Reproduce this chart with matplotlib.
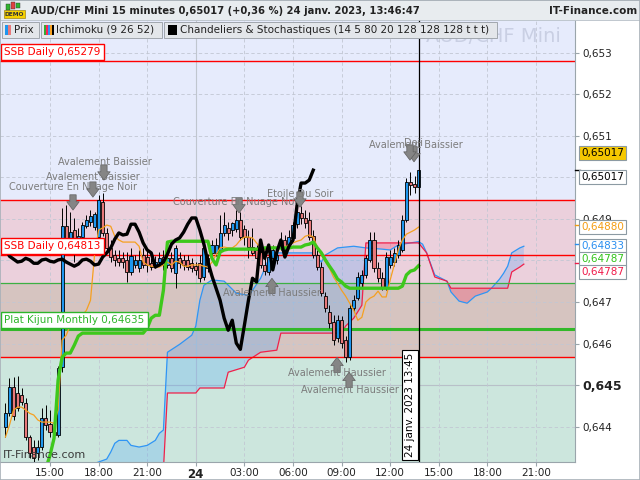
import numpy as np
import matplotlib.pyplot as plt
from matplotlib.patches import Rectangle
from matplotlib.lines import Line2D

# time axis = hours from 23 Jan 2023 00:00, one bar every 15 minutes
first_bar = 12.25
bar_len = 0.25

opens = [0.64399, 0.64432, 0.64495, 0.64481, 0.64476, 0.64457, 0.64375, 0.64351, 0.64336, 0.64351,
         0.64420, 0.64406, 0.64387, 0.64379, 0.64543, 0.64882, 0.64837, 0.64873, 0.64844, 0.64856,
         0.64882, 0.64892, 0.64880, 0.64856, 0.64940, 0.64866, 0.64830, 0.64813, 0.64805, 0.64805,
         0.64801, 0.64772, 0.64789, 0.64781, 0.64813, 0.64808, 0.64793, 0.64789, 0.64796, 0.64808,
         0.64789, 0.64805, 0.64769, 0.64805, 0.64801, 0.64801, 0.64793, 0.64786, 0.64793, 0.64760,
         0.64781, 0.64818, 0.64818, 0.64825, 0.64866, 0.64878, 0.64873, 0.64875, 0.64897, 0.64875,
         0.64856, 0.64832, 0.64825, 0.64820, 0.64789, 0.64772, 0.64805, 0.64801, 0.64830, 0.64849,
         0.64839, 0.64854, 0.64887, 0.64914, 0.64902, 0.64897, 0.64858, 0.64813, 0.64784, 0.64714,
         0.64676, 0.64651, 0.64613, 0.64656, 0.64608, 0.64567, 0.64685, 0.64709, 0.64745, 0.64765,
         0.64801, 0.64849, 0.64781, 0.64757, 0.64736, 0.64789, 0.64796, 0.64813, 0.64825, 0.64897,
         0.64988, 0.64984, 0.64976]
highs = [0.64457, 0.64517, 0.64519, 0.64521, 0.64493, 0.64469, 0.64379, 0.64367, 0.64367, 0.64444,
         0.64452, 0.64440, 0.64404, 0.64546, 0.64926, 0.64933, 0.64916, 0.64902, 0.64878, 0.64892,
         0.64909, 0.64921, 0.64916, 0.64957, 0.64962, 0.64878, 0.64849, 0.64825, 0.64825, 0.64820,
         0.64820, 0.64830, 0.64813, 0.64825, 0.64830, 0.64825, 0.64805, 0.64810, 0.64820, 0.64825,
         0.64820, 0.64820, 0.64837, 0.64820, 0.64813, 0.64813, 0.64805, 0.64796, 0.64813, 0.64837,
         0.64815, 0.64849, 0.64854, 0.64909, 0.64916, 0.64892, 0.64892, 0.64921, 0.64916, 0.64885,
         0.64873, 0.64878, 0.64837, 0.64832, 0.64805, 0.64820, 0.64837, 0.64830, 0.64868, 0.64861,
         0.64873, 0.64892, 0.64933, 0.64931, 0.64921, 0.64916, 0.64873, 0.64825, 0.64796, 0.64724,
         0.64692, 0.64668, 0.64668, 0.64666, 0.64618, 0.64695, 0.64716, 0.64772, 0.64777, 0.64813,
         0.64868, 0.64868, 0.64796, 0.64772, 0.64820, 0.64825, 0.64830, 0.64849, 0.64909, 0.64998,
         0.65012, 0.65003, 0.65024]
lows = [0.64375, 0.64425, 0.64416, 0.64437, 0.64452, 0.64367, 0.64324, 0.64312, 0.64319, 0.64343,
        0.64392, 0.64375, 0.64367, 0.64375, 0.64531, 0.64825, 0.64825, 0.64796, 0.64825, 0.64849,
        0.64878, 0.64882, 0.64873, 0.64849, 0.64858, 0.64820, 0.64796, 0.64786, 0.64786, 0.64781,
        0.64748, 0.64765, 0.64781, 0.64772, 0.64781, 0.64772, 0.64777, 0.64781, 0.64786, 0.64777,
        0.64781, 0.64772, 0.64733, 0.64781, 0.64777, 0.64777, 0.64772, 0.64765, 0.64748, 0.64753,
        0.64772, 0.64805, 0.64810, 0.64813, 0.64858, 0.64849, 0.64858, 0.64868, 0.64849, 0.64837,
        0.64805, 0.64813, 0.64796, 0.64781, 0.64765, 0.64765, 0.64796, 0.64791, 0.64825, 0.64820,
        0.64832, 0.64844, 0.64878, 0.64887, 0.64878, 0.64849, 0.64805, 0.64777, 0.64714, 0.64676,
        0.64637, 0.64596, 0.64603, 0.64589, 0.64555, 0.64560, 0.64676, 0.64704, 0.64733, 0.64757,
        0.64796, 0.64772, 0.64748, 0.64728, 0.64728, 0.64781, 0.64786, 0.64805, 0.64820, 0.64892,
        0.64957, 0.64962, 0.64969]
closes = [0.64432, 0.64495, 0.64425, 0.64444, 0.64459, 0.64375, 0.64336, 0.64324, 0.64351, 0.64420,
          0.64404, 0.64387, 0.64379, 0.64541, 0.64882, 0.64839, 0.64868, 0.64844, 0.64858, 0.64885,
          0.64897, 0.64907, 0.64911, 0.64945, 0.64866, 0.64830, 0.64808, 0.64801, 0.64796, 0.64796,
          0.64772, 0.64810, 0.64801, 0.64801, 0.64789, 0.64789, 0.64784, 0.64796, 0.64805, 0.64789,
          0.64805, 0.64781, 0.64830, 0.64793, 0.64789, 0.64784, 0.64781, 0.64777, 0.64757, 0.64830,
          0.64805, 0.64837, 0.64837, 0.64866, 0.64885, 0.64866, 0.64890, 0.64897, 0.64856, 0.64856,
          0.64832, 0.64818, 0.64805, 0.64789, 0.64774, 0.64808, 0.64825, 0.64813, 0.64849, 0.64830,
          0.64856, 0.64885, 0.64916, 0.64902, 0.64890, 0.64856, 0.64813, 0.64784, 0.64721, 0.64685,
          0.64649, 0.64608, 0.64656, 0.64601, 0.64567, 0.64685, 0.64704, 0.64760, 0.64765, 0.64805,
          0.64849, 0.64781, 0.64757, 0.64736, 0.64808, 0.64808, 0.64818, 0.64837, 0.64897, 0.64988,
          0.64981, 0.64976, 0.65017]

# Tenkan (orange), one value per bar
tenkan = [0.64375, 0.64404, 0.64440, 0.64447, 0.64447, 0.64440, 0.64432, 0.64428, 0.64416, 0.64411,
          0.64411, 0.64411, 0.64408, 0.64440, 0.64608, 0.64620, 0.64644, 0.64649, 0.64656, 0.64668,
          0.64680, 0.64704, 0.64813, 0.64873, 0.64878, 0.64885, 0.64882, 0.64858, 0.64849, 0.64844,
          0.64844, 0.64844, 0.64844, 0.64834, 0.64796, 0.64789, 0.64786, 0.64784, 0.64784, 0.64789,
          0.64796, 0.64789, 0.64798, 0.64796, 0.64786, 0.64786, 0.64789, 0.64789, 0.64789, 0.64786,
          0.64784, 0.64796, 0.64813, 0.64830, 0.64832, 0.64830, 0.64830, 0.64837, 0.64849, 0.64856,
          0.64856, 0.64854, 0.64842, 0.64830, 0.64825, 0.64830, 0.64832, 0.64830, 0.64830, 0.64832,
          0.64837, 0.64842, 0.64846, 0.64849, 0.64858, 0.64861, 0.64856, 0.64832, 0.64813, 0.64796,
          0.64781, 0.64760, 0.64745, 0.64728, 0.64714, 0.64697, 0.64680, 0.64656, 0.64663, 0.64700,
          0.64709, 0.64714, 0.64726, 0.64712, 0.64712, 0.64753, 0.64789, 0.64825, 0.64849, 0.64863,
          0.64868, 0.64873, 0.64880]

# Kijun (green), starts at bar 10
kijun_first = 10
kijun = [0.64300, 0.64331, 0.64372, 0.64512, 0.64567, 0.64577, 0.64577, 0.64596, 0.64618,
         0.64625, 0.64625, 0.64625, 0.64625, 0.64625, 0.64625, 0.64625, 0.64625,
         0.64625, 0.64625, 0.64625, 0.64625, 0.64625, 0.64625, 0.64625, 0.64625,
         0.64637, 0.64661, 0.64668, 0.64668, 0.64728, 0.64844,
         0.64846, 0.64846, 0.64846, 0.64846, 0.64846, 0.64846, 0.64846, 0.64846, 0.64846, 0.64846,
         0.64805, 0.64789, 0.64820, 0.64825,
         0.64827, 0.64827, 0.64827, 0.64827, 0.64827, 0.64827, 0.64827, 0.64827, 0.64827,
         0.64830, 0.64830, 0.64830, 0.64830, 0.64830, 0.64830, 0.64830,
         0.64832, 0.64832, 0.64832, 0.64837, 0.64839, 0.64844,
         0.64830, 0.64818, 0.64801, 0.64786, 0.64772, 0.64755, 0.64748, 0.64738,
         0.64733, 0.64733, 0.64733, 0.64733, 0.64733, 0.64733, 0.64733, 0.64733, 0.64733,
         0.64733, 0.64733, 0.64733, 0.64733,
         0.64738, 0.64765, 0.64774, 0.64777, 0.64787]

# Stochastic overlay (thick black), one value per bar from the first bar
stoch = [0.64830, 0.64810, 0.64803, 0.64796, 0.64798, 0.64805, 0.64801, 0.64793, 0.64793, 0.64801,
         0.64803, 0.64798, 0.64796, 0.64801, 0.64803, 0.64796, 0.64791, 0.64786, 0.64791, 0.64801,
         0.64803, 0.64798, 0.64789, 0.64791, 0.64808, 0.64818, 0.64830, 0.64851, 0.64866, 0.64861,
         0.64863, 0.64887, 0.64887, 0.64868, 0.64842, 0.64825, 0.64818, 0.64784, 0.64789, 0.64796,
         0.64815, 0.64839, 0.64849, 0.64854, 0.64868, 0.64887, 0.64902, 0.64902, 0.64873, 0.64839,
         0.64796, 0.64762, 0.64733, 0.64704, 0.64661, 0.64632, 0.64656, 0.64601, 0.64586, 0.64644,
         0.64704, 0.64757, 0.64748, 0.64849, 0.64805, 0.64837, 0.64777, 0.64820, 0.64849, 0.64808,
         0.64834, 0.64849, 0.64933, 0.64986, 0.64986, 0.64993, 0.65017]

# Ichimoku cloud (Senkou A blue, Senkou B red)
ssa_time = [17.25, 18.0, 18.5, 18.75, 19.0, 19.25, 19.75, 20.0, 20.5, 21.0, 21.5, 21.75, 22.0,
            22.25, 23.0, 23.75, 24.0, 24.25, 24.5, 25.0, 25.75, 26.5, 27.25, 27.5, 28.0, 28.5,
            29.0, 31.25, 31.75, 32.0, 32.75, 33.75, 34.5, 35.5, 36.0, 36.5, 37.25, 37.75, 38.0,
            38.25, 38.75, 39.5, 39.75, 40.25, 40.75, 41.25, 42.0, 42.25, 42.75, 43.0, 43.25,
            43.5, 44.0, 44.25]
ssa = [0.64305, 0.64315, 0.64322, 0.64339, 0.64360, 0.64367, 0.64367, 0.64355, 0.64351, 0.64355,
       0.64367, 0.64384, 0.64392, 0.64579, 0.64598, 0.64620, 0.64642, 0.64704, 0.64740, 0.64753,
       0.64750, 0.64721, 0.64716, 0.64728, 0.64757, 0.64803, 0.64818, 0.64818, 0.64796, 0.64813,
       0.64830, 0.64834, 0.64830, 0.64827, 0.64825, 0.64837, 0.64842, 0.64845, 0.64839, 0.64818,
       0.64765, 0.64750, 0.64724, 0.64702, 0.64697, 0.64714, 0.64724, 0.64733, 0.64755, 0.64769,
       0.64786, 0.64818, 0.64830, 0.64834]
ssb_time = [22.0, 22.25, 24.0, 24.25, 25.75, 26.0, 27.0, 27.25, 28.0, 29.0, 29.25, 33.0, 33.25,
            33.75, 34.25, 34.5, 37.75, 38.25, 38.75, 39.5, 39.75, 43.25, 43.5, 44.0, 44.25]
ssb = [0.64295, 0.64481, 0.64481, 0.64493, 0.64493, 0.64531, 0.64543, 0.64560, 0.64579, 0.64584,
       0.64625, 0.64625, 0.64642, 0.64661, 0.64692, 0.64842, 0.64842, 0.64818, 0.64760, 0.64750,
       0.64733, 0.64733, 0.64772, 0.64784, 0.64791]

# horizontal levels
ssb_daily_hi = 0.65279
ssb_daily_lo = 0.64813
plat_kijun = 0.64635
red_level_a = 0.64945
red_level_b = 0.64567
green_level = 0.64745

price_ticks = [0.644, 0.645, 0.646, 0.647, 0.649, 0.651, 0.652, 0.653]
price_labels = ['0,644', '0,645', '0,646', '0,647', '0,649', '0,651', '0,652', '0,653']
grid_prices = [0.644, 0.645, 0.646, 0.647, 0.648, 0.649, 0.650, 0.651, 0.652, 0.653]
time_ticks = [15, 18, 21, 24, 27, 30, 33, 36, 39, 42, 45]
time_labels = ['15:00', '18:00', '21:00', '24', '03:00', '06:00', '09:00', '12:00',
               '15:00', '18:00', '21:00']
cursor_time = 37.75

# candlestick pattern marks: text, arrow time, arrow tip price, text time, text price, direction
patterns = [
    ('Couverture En Nuage Noir', 16.42, 0.64921, 16.42, 0.64976, 'down'),
    ('Avalement Baissier', 17.65, 0.64952, 17.65, 0.65000, 'down'),
    ('Avalement Baissier', 18.33, 0.64993, 18.40, 0.65037, 'down'),
    ('Couverture En Nuage Noir', 26.67, 0.64914, 26.54, 0.64940, 'down'),
    ('Etoile Du Soir', 30.43, 0.64928, 30.43, 0.64959, 'down'),
    ('Avalement Haussier', 28.70, 0.64757, 28.70, 0.64721, 'up'),
    ('Avalement Haussier', 32.72, 0.64567, 32.72, 0.64529, 'up'),
    ('Avalement Haussier', 33.46, 0.64531, 33.52, 0.64488, 'up'),
    ('Avalement Baissier', 37.47, 0.65037, 37.59, 0.65077, 'down'),
    ('Doji', 37.22, 0.65041, 37.41, 0.65082, 'down'),
]

W, H = 640, 480


def fx(x):
    return x / W


def fy(y):
    return 1 - y / H


fig = plt.figure(figsize=(6.4, 4.8), dpi=100)
fig.patch.set_facecolor('white')
ax = fig.add_axes([0, fy(462), fx(575), (462 - 20) / H])
ax.set_xlim(11.914, 47.407)
ax.set_ylim(0.64315, 0.653782)

# background zones
ax.axhspan(red_level_a, 0.66, color='#e6ebfc', zorder=0, lw=0)
ax.axhspan(green_level, red_level_a, color='#ebd0dc', zorder=0, lw=0)
ax.axhspan(red_level_b, green_level, color='#d6c4c0', zorder=0, lw=0)
ax.axhspan(0.64, red_level_b, color='#cce6dd', zorder=0, lw=0)

for p in grid_prices:
    if p == 0.645:
        ax.axhline(p, color='#b8c0c8', lw=0.8, zorder=0.5)
    else:
        ax.axhline(p, color='#c2c7d3', lw=0.6, ls=(0, (4, 3)), zorder=0.5)
for t in time_ticks:
    if t == 24:
        ax.axvline(t, color='#c0c6cf', lw=0.8, zorder=0.5)
    else:
        ax.axvline(t, color='#c2c7d3', lw=0.6, ls=(0, (4, 3)), zorder=0.5)

# cloud
tt = np.arange(ssa_time[0], ssa_time[-1] + 0.001, 0.05)
a = np.interp(tt, ssa_time, ssa)
b = np.interp(tt, ssb_time, ssb)
ax.fill_between(tt, a, b, where=a >= b, color='#3399ff', alpha=0.22, lw=0, interpolate=True, zorder=1)
ax.fill_between(tt, a, b, where=a < b, color='#ff2255', alpha=0.25, lw=0, interpolate=True, zorder=1)
ax.plot(ssa_time, ssa, color='#2f95f5', lw=0.9, zorder=2)
ax.plot(ssb_time, ssb, color='#f0204a', lw=0.9, zorder=2)

# levels
for lv in [ssb_daily_hi, red_level_a, ssb_daily_lo, red_level_b]:
    ax.axhline(lv, color='#ff0000', lw=1.0, zorder=2)
ax.axhline(green_level, color='#3cb043', lw=0.9, zorder=2)
ax.axhline(plat_kijun, color='#33b82a', lw=2.2, zorder=2)

# candles
o = np.array(opens)
c = np.array(closes)
t_bar = first_bar + bar_len * np.arange(len(opens))
up = c >= o
ax.vlines(t_bar, lows, highs, color='black', lw=0.7, zorder=3)
body = np.maximum(np.abs(c - o), 0.00002)
ax.bar(t_bar, body, bottom=np.minimum(o, c), width=0.19,
       color=['#1e96ee' if u else '#e8787a' for u in up],
       edgecolor='black', linewidth=0.6, zorder=4)

ax.plot(t_bar[:len(tenkan)], tenkan, color='#f5a020', lw=0.9, zorder=5)
ax.plot(t_bar[kijun_first:kijun_first + len(kijun)], kijun, color='#3ec81c', lw=2.4, zorder=5)
ax.plot(t_bar[:len(stoch)], stoch, color='black', lw=2.4, zorder=6, solid_joinstyle='round')

ax.axvline(cursor_time, color='black', lw=0.9, zorder=7)

# pattern arrows and names
for name, ta, pa, tx, px_, d in patterns:
    off = 11 if d == 'down' else -11
    ax.annotate('', xy=(ta, pa), xytext=(0, off), textcoords='offset points',
                arrowprops=dict(arrowstyle='simple,head_length=0.5,head_width=0.75,tail_width=0.38',
                                fc='#858585', ec='#5f5f5f', lw=0.5, mutation_scale=12,
                                shrinkA=0, shrinkB=0),
                zorder=8)
    ax.text(tx, px_, name, fontsize=7, color='#7c7c7c', ha='center', va='center', zorder=8)

# level labels at the left
for lv, txt, col in [(ssb_daily_hi, 'SSB Daily 0,65279', '#ff0000'),
                     (ssb_daily_lo, 'SSB Daily 0,64813', '#ff0000'),
                     (plat_kijun, 'Plat Kijun Monthly 0,64635', '#2db52a')]:
    ax.annotate(txt, xy=(0, lv), xycoords=('axes fraction', 'data'), xytext=(3, 3),
                textcoords='offset points', fontsize=7.5, color=col, va='bottom', ha='left',
                bbox=dict(boxstyle='square,pad=0.3', fc='white', ec=col, lw=1), zorder=9)

# axes styling
for s in ['top', 'left']:
    ax.spines[s].set_visible(False)
for s in ['right', 'bottom']:
    ax.spines[s].set_color('#9aa5ab')
ax.yaxis.tick_right()
ax.set_yticks(price_ticks)
ax.set_yticklabels(price_labels)
ax.set_xticks(time_ticks)
ax.set_xticklabels(time_labels)
ax.tick_params(axis='y', length=3, pad=2, labelsize=7.5, colors='#222222')
ax.tick_params(axis='x', length=3, pad=1.5, labelsize=7.5, colors='#222222')
ax.tick_params(color='#9aa5ab')
for lab in ax.get_yticklabels():
    if lab.get_text() == '0,645':
        lab.set_fontweight('bold')
        lab.set_fontsize(9)
for lab in ax.get_xticklabels():
    if lab.get_text() == '24':
        lab.set_fontweight('bold')
        lab.set_fontsize(8.5)

fig.text(fx(3), fy(455), 'IT-Finance.com', fontsize=8, color='#3a3a3a', va='center', ha='left')

# faint symbol watermark, partly behind the legend strip
fig.text(fx(493), fy(37), 'AUD/CHF Mini', fontsize=14, color='#c9cfe3',
         ha='center', va='center', zorder=1)

# right value boxes with their small ticks
for y, col in [(170, 'black'), (225, '#f39c12'), (244, '#2a8ff0'), (263, '#f01a4a')]:
    fig.add_artist(Line2D([fx(575), fx(580)], [fy(y), fy(y)], color=col, lw=1))
for y, txt, col, fc in [(153, '0,65017', 'black', '#f6c800'),
                        (177, '0,65017', 'black', 'white'),
                        (227, '0,64880', '#f39c12', 'white'),
                        (246, '0,64833', '#2a8ff0', 'white'),
                        (259, '0,64787', '#32c41a', 'white'),
                        (272, '0,64787', '#f01a4a', 'white')]:
    fig.text(fx(581), fy(y), txt, fontsize=7.5, color=col, va='center', ha='left',
             bbox=dict(boxstyle='square,pad=0.2', fc=fc, ec='#8c9aa3', lw=0.8))

# cursor date box
fig.text(fx(410), fy(405), '24 janv. 2023 13:45', rotation=90, fontsize=7.5, ha='center', va='center',
         bbox=dict(boxstyle='square,pad=0.25', fc='white', ec='black', lw=0.8))

# header bar
fig.add_artist(Rectangle((0, fy(20)), 1, 20 / H, transform=fig.transFigure, fc='#e8ecef', ec='#b8c0c8', lw=0.6))
fig.add_artist(Rectangle((fx(4), fy(18)), 21 / W, 8 / H, transform=fig.transFigure, fc='#f5d000', ec='#8a7000', lw=0.4))
fig.text(fx(14.5), fy(14), 'DEMO', fontsize=4.2, weight='bold', color='#333333', ha='center', va='center')
for x0, col, h0, h1 in [(6, '#2fb52f', 4, 10), (11, '#e04040', 2, 9), (16, '#2fb52f', 3, 8)]:
    fig.add_artist(Rectangle((fx(x0), fy(h1)), 3.5 / W, (h1 - h0) / H, transform=fig.transFigure,
                             fc=col, ec='#333333', lw=0.3))
fig.text(fx(31), fy(10.5), 'AUD/CHF Mini 15 minutes 0,65017 (+0,36 %) 24 janv. 2023, 13:46:47',
         fontsize=7.2, weight='bold', color='#222222', va='center', ha='left')
fig.text(fx(637), fy(10.5), 'IT-Finance.com', fontsize=7.5, weight='bold', color='#222222',
         va='center', ha='right')

# legend strip
for x0, x1 in [(2, 39), (41, 162), (164, 497)]:
    fig.add_artist(Rectangle((fx(x0), fy(38)), (x1 - x0) / W, 16 / H, transform=fig.transFigure,
                             fc='#e3e6ea', ec='#a0a6ad', lw=0.7, zorder=2))
fig.add_artist(Rectangle((fx(5), fy(35)), 3 / W, 10 / H, transform=fig.transFigure, fc='#1e96ee', lw=0, zorder=3))
fig.add_artist(Rectangle((fx(8), fy(35)), 3 / W, 10 / H, transform=fig.transFigure, fc='#e8787a', lw=0, zorder=3))
for k, col in enumerate(['#33aa33', '#ff2255', '#2f95f5', '#f5a020', '#000000']):
    fig.add_artist(Rectangle((fx(44 + 2 * k), fy(35)), 2 / W, 10 / H, transform=fig.transFigure,
                             fc=col, lw=0, zorder=3))
fig.add_artist(Rectangle((fx(168), fy(34.5)), 9 / W, 9 / H, transform=fig.transFigure, fc='black', lw=0, zorder=3))
fig.text(fx(14), fy(30), 'Prix', fontsize=7.5, color='#222222', va='center', ha='left', zorder=4)
fig.text(fx(56), fy(30), 'Ichimoku (9 26 52)', fontsize=7.5, color='#222222', va='center', ha='left', zorder=4)
fig.text(fx(180), fy(30), 'Chandeliers & Stochastiques (14 5 80 20 128 128 128 t t t)', fontsize=7.5,
         color='#222222', va='center', ha='left', zorder=4)

fig.add_artist(Rectangle((0, 0), 1, 1, transform=fig.transFigure, fill=False, ec='#a8b0b8', lw=1.2))

fig.savefig('out.png', dpi=100)
